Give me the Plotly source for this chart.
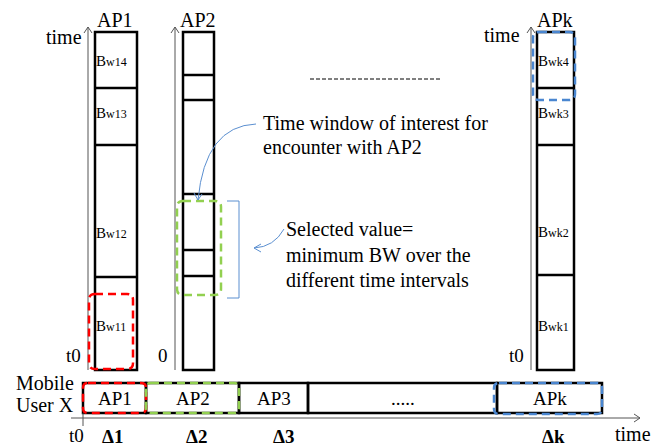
import plotly.graph_objects as go

# ---------------- data ----------------
ap_names = ["AP1", "AP2", "APk"]
# column horizontal extents (x left, x right) in diagram units
col_x = {"AP1": (95, 137), "AP2": (183, 214), "APk": (537, 574)}
axis_x = {"AP1": 88, "AP2": 175, "APk": 531}
# interval boundaries along the time axis (bottom -> top), diagram units
col_bounds = {
    "AP1": [370, 277, 145, 88, 32],
    "AP2": [370, 276, 250, 194, 100, 75, 32],
    "APk": [370, 275, 145, 88, 32],
}
bw_labels = {
    "AP1": [("11", 326), ("12", 233), ("13", 113), ("14", 61)],
    "APk": [("k1", 326), ("k2", 232), ("k3", 113), ("k4", 61)],
}
origin_labels = {"AP1": "t0", "AP2": "0", "APk": "t0"}
# user row segments
row_labels = ["AP1", "AP2", "AP3", ".....", "APk"]
row_edges = [83, 146, 239, 308, 497, 602]
delta_labels = ["Δ1", "Δ2", "Δ3", "Δk"]
delta_x = [112, 196, 283, 553]

FONT = "Times New Roman, Liberation Serif, serif"
fig = go.Figure()
shapes = []
ann = []

def line(x0, y0, x1, y1, color="black", width=2.5, dash=None):
    d = dict(type="line", x0=x0, y0=y0, x1=x1, y1=y1, xref="x", yref="y",
             line=dict(color=color, width=width))
    if dash:
        d["line"]["dash"] = dash
    shapes.append(d)

def path(p, color, width, dash=None):
    d = dict(type="path", path=p, xref="x", yref="y", line=dict(color=color, width=width))
    if dash:
        d["line"]["dash"] = dash
    shapes.append(d)

def text(x, y, t, size=17, xanchor="center", color="black", bold=False, yanchor="middle"):
    if bold:
        t = "<b>" + t + "</b>"
    ann.append(dict(x=x, y=y, text=t, showarrow=False, xref="x", yref="y",
                    xanchor=xanchor, yanchor=yanchor, borderpad=0,
                    font=dict(family=FONT, size=size, color=color)))

def rrect(x0, y0, x1, y1, r, color, width, dash):
    p = (f"M{x0+r},{y0} L{x1-r},{y0} Q{x1},{y0} {x1},{y0+r} L{x1},{y1-r} "
         f"Q{x1},{y1} {x1-r},{y1} L{x0+r},{y1} Q{x0},{y1} {x0},{y1-r} "
         f"L{x0},{y0+r} Q{x0},{y0} {x0+r},{y0} Z")
    path(p, color, width, dash)

GRAY = "#555555"
# vertical time axes and columns
for name in ap_names:
    ax = axis_x[name]
    b = col_bounds[name]
    line(ax, 370, ax, 27, color=GRAY, width=1)
    path(f"M{ax-4},{33} L{ax},{27} L{ax+4},{33}", GRAY, 1)
    xl, xr = col_x[name]
    shapes.append(dict(type="rect", x0=xl, x1=xr, y0=b[0], y1=b[-1], xref="x", yref="y",
                       line=dict(color="black", width=2.5)))
    for yb in b[1:-1]:
        line(xl, yb, xr, yb)
    text((xl + xr) / 2 - 1, 8, name, size=20, yanchor="top")
    text(ax - 6, 355, origin_labels[name], size=19, xanchor="right")

for name, labs in bw_labels.items():
    xl, xr = col_x[name]
    for sub, yv in labs:
        text(xl, yv, "B<span style='font-size:12px'>w" + sub + "</span>", size=15, xanchor="left")

text(83, 37, "time", size=20, xanchor="right")
text(521, 35, "time", size=20, xanchor="right")

# dashed highlight boxes on columns
rrect(89, 294, 133, 369, 6, "red", 2.5, "8px,5px")
rrect(177, 201, 221, 295, 6, "#92D050", 2.5, "8px,5px")
rrect(533, 32, 575, 100, 6, "#4A86D0", 2.5, "8px,5px")

# separator dashes
line(310, 79, 442, 79, color="black", width=1, dash="4px,2px")

# bracket
BLUE = "#5B8FD0"
path("M227,201 L239,201 L239,298 L227,298", BLUE, 1)

# annotations text
text(262, 123, "Time window of interest for", size=20, xanchor="left")
text(262, 147, "encounter with AP2", size=20, xanchor="left")
text(285, 229, "Selected value=", size=20, xanchor="left")
text(285, 255, "minimum BW over the", size=20, xanchor="left")
text(285, 280, "different time intervals", size=20, xanchor="left")

# curved arrows
path("M256,124 Q205,126 198,200", BLUE, 1)
path("M194,193 L198,200 L202,194", BLUE, 1)
path("M284,229 Q274,247 254,248", BLUE, 1)
path("M261,244 L254,248 L261,252", BLUE, 1)

# user row
text(45, 383, "Mobile", size=20)
text(45, 405, "User X", size=20)
for i, lab in enumerate(row_labels):
    x0, x1 = row_edges[i], row_edges[i + 1]
    shapes.append(dict(type="rect", x0=x0, x1=x1, y0=383, y1=413, xref="x", yref="y",
                       line=dict(color="black", width=2.5)))
    text((x0 + x1) / 2, 398, lab, size=19)
rrect(83, 383, 146, 413, 5, "red", 2.5, "8px,5px")
rrect(146, 383, 239, 413, 5, "#92D050", 2.5, "8px,5px")
rrect(494, 383, 602, 414, 5, "#4A86D0", 2.5, "8px,5px")

# bottom time axis
line(71, 418, 640, 418, color=GRAY, width=1)
path("M634,414 L640,418 L634,422", GRAY, 1)
line(83, 413, 83, 426, color=GRAY, width=1)
text(76, 435, "t0", size=19)
for lab, xv in zip(delta_labels, delta_x):
    text(xv, 436, lab, size=19, bold=True)
text(633, 434, "time", size=20)

# the page body adds an 8px offset; compensate so diagram units equal screen pixels
OFF = 8
fig.update_layout(
    width=661 - OFF, height=447 - OFF,
    margin=dict(l=0, r=0, t=0, b=0),
    paper_bgcolor="white", plot_bgcolor="white",
    xaxis=dict(range=[OFF, 661], visible=False, fixedrange=True),
    yaxis=dict(range=[447, OFF], visible=False, fixedrange=True),
    shapes=shapes, annotations=ann, showlegend=False,
)
fig.write_html("out.html")
